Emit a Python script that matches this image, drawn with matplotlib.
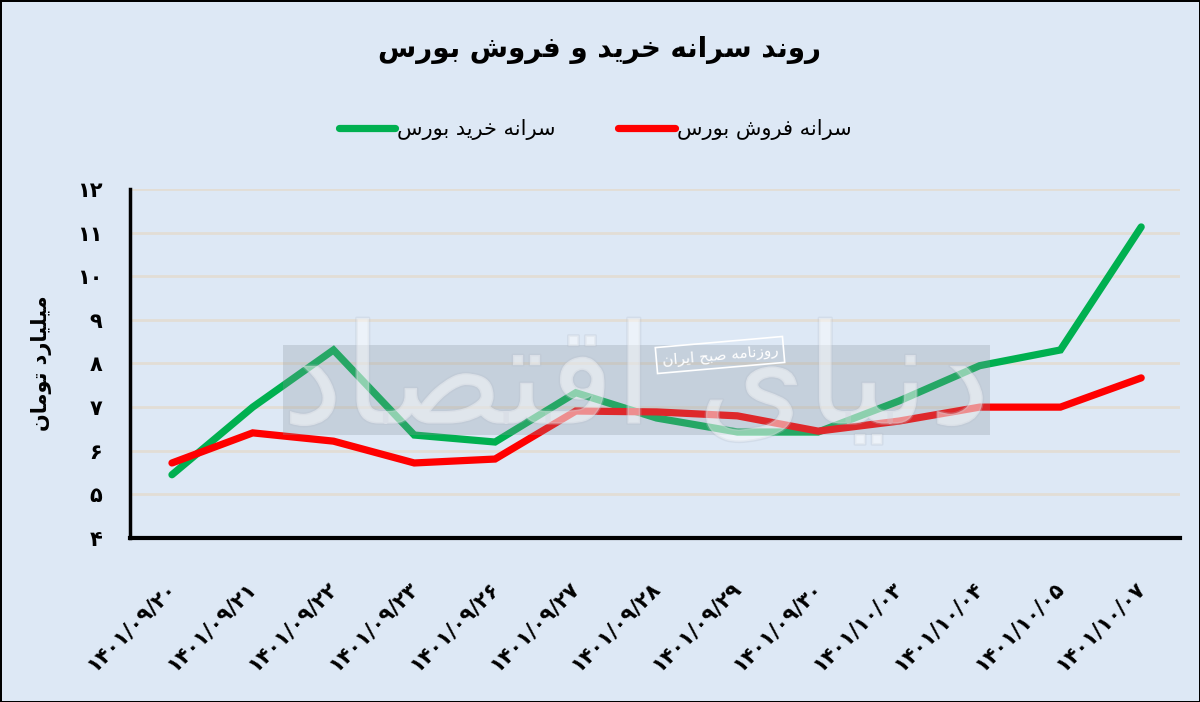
import matplotlib.pyplot as plt
import matplotlib.patheffects as pe
from matplotlib.patches import Rectangle
import numpy as np

plt.rcParams['font.family'] = ['DejaVu Sans']

# data (billion toman)
dates = ["۱۴۰۱/۰۹/۲۰", "۱۴۰۱/۰۹/۲۱", "۱۴۰۱/۰۹/۲۲", "۱۴۰۱/۰۹/۲۳", "۱۴۰۱/۰۹/۲۶",
         "۱۴۰۱/۰۹/۲۷", "۱۴۰۱/۰۹/۲۸", "۱۴۰۱/۰۹/۲۹", "۱۴۰۱/۰۹/۳۰", "۱۴۰۱/۱۰/۰۳",
         "۱۴۰۱/۱۰/۰۴", "۱۴۰۱/۱۰/۰۵", "۱۴۰۱/۱۰/۰۷"]
buy = [5.45, 7.0, 8.31, 6.36, 6.2, 7.33, 6.75, 6.43, 6.43, 7.14, 7.95, 8.31, 11.13]
sell = [5.72, 6.41, 6.22, 5.72, 5.81, 6.91, 6.89, 6.8, 6.45, 6.68, 7.0, 7.0, 7.67]
yticks = [4, 5, 6, 7, 8, 9, 10, 11, 12]
persian_digits = "۰۱۲۳۴۵۶۷۸۹"

title_txt = "روند سرانه خرید و فروش بورس"
buy_label = "سرانه خرید بورس"
sell_label = "سرانه فروش بورس"
ylabel_txt = "میلیارد تومان"

# matplotlib has no arabic shaping, so do it by hand with presentation forms
FORMS = {
    'ا': ('\uFE8D', '\uFE8E'), 'د': ('\uFEA9', '\uFEAA'), 'ر': ('\uFEAD', '\uFEAE'),
    'ز': ('\uFEAF', '\uFEB0'), 'و': ('\uFEED', '\uFEEE'),
    'ب': ('\uFE8F', '\uFE90', '\uFE91', '\uFE92'), 'ت': ('\uFE95', '\uFE96', '\uFE97', '\uFE98'),
    'ح': ('\uFEA1', '\uFEA2', '\uFEA3', '\uFEA4'), 'خ': ('\uFEA5', '\uFEA6', '\uFEA7', '\uFEA8'),
    'س': ('\uFEB1', '\uFEB2', '\uFEB3', '\uFEB4'), 'ش': ('\uFEB5', '\uFEB6', '\uFEB7', '\uFEB8'),
    'ص': ('\uFEB9', '\uFEBA', '\uFEBB', '\uFEBC'), 'ف': ('\uFED1', '\uFED2', '\uFED3', '\uFED4'),
    'ق': ('\uFED5', '\uFED6', '\uFED7', '\uFED8'), 'ل': ('\uFEDD', '\uFEDE', '\uFEDF', '\uFEE0'),
    'م': ('\uFEE1', '\uFEE2', '\uFEE3', '\uFEE4'), 'ن': ('\uFEE5', '\uFEE6', '\uFEE7', '\uFEE8'),
    'ه': ('\uFEE9', '\uFEEA', '\uFEEB', '\uFEEC'), 'ی': ('\uFBFC', '\uFBFD', '\uFBFE', '\uFBFF'),
}


def fa(text):
    out = []
    for i, c in enumerate(text):
        if c not in FORMS:
            out.append(c)
            continue
        prev = text[i - 1] if i > 0 else None
        nxt = text[i + 1] if i + 1 < len(text) else None
        p = prev in FORMS and len(FORMS[prev]) == 4
        n = len(FORMS[c]) == 4 and nxt in FORMS
        f = FORMS[c]
        if p and n:
            out.append(f[3])
        elif p:
            out.append(f[1])
        elif n:
            out.append(f[2])
        else:
            out.append(f[0])
    return ''.join(out)[::-1]


def fa_num(v):
    return ''.join(persian_digits[int(d)] for d in str(v))


bg = '#DDE8F5'
fig = plt.figure(figsize=(12, 7.02), dpi=100, facecolor=bg)
ax = fig.add_axes([0.1083, 0.2336, 0.875, 0.4972])
ax.set_facecolor(bg)

x = np.arange(len(dates))
ax.plot(x, buy, color='#00B050', lw=5.2, solid_capstyle='round', solid_joinstyle='miter',
        label=fa(buy_label), zorder=3)
ax.plot(x, sell, color='#FF0000', lw=5.2, solid_capstyle='round', solid_joinstyle='miter',
        label=fa(sell_label), zorder=4)

ax.set_xlim(-0.52, 12.48)
ax.set_ylim(4, 12)
ax.set_yticks(yticks)
ax.set_yticklabels([fa_num(v) for v in yticks], fontsize=15, fontweight='bold')
ax.set_xticks(x)
ax.set_xticklabels(dates, rotation=45, ha='right', va='center', rotation_mode='anchor',
                   fontsize=15, fontweight='bold')
ax.tick_params(axis='both', length=0)
ax.tick_params(axis='y', pad=20)
ax.tick_params(axis='x', pad=34)
ax.grid(axis='y', color='#E2DDD5', lw=2)
ax.set_axisbelow(True)
for s in ['top', 'right']:
    ax.spines[s].set_visible(False)
ax.spines['left'].set_linewidth(2.5)
ax.spines['bottom'].set_linewidth(3)

ax.set_ylabel(fa(ylabel_txt), fontsize=15, fontweight='bold')
ax.yaxis.set_label_coords(-0.074, 0.5)

fig.text(0.5, 0.929, fa(title_txt), ha='center', va='center', fontsize=20, fontweight='bold')
fig.legend(loc='center', bbox_to_anchor=(0.496, 0.815), ncol=2, frameon=False,
           fontsize=15, handlelength=2.7, columnspacing=3.0, handletextpad=0.1)

# watermark
fig.add_artist(Rectangle((283 / 1200, 1 - 435 / 702), 707 / 1200, 90 / 702,
                         transform=fig.transFigure, facecolor='#8A939E', alpha=0.28,
                         edgecolor='none', zorder=5))
fig.text(0.53, 1 - 385 / 702, fa("دنیای اقتصاد"), ha='center', va='center', fontsize=100,
         color='white', alpha=0.28, zorder=6,
         path_effects=[pe.withStroke(linewidth=2, foreground='#B8C0CC')])
fig.text(0.6, 1 - 355 / 702, fa("روزنامه صبح ایران"), ha='center', va='center', fontsize=11,
         color='white', rotation=5, zorder=7,
         bbox=dict(facecolor='none', edgecolor='white', lw=1.2, pad=4))

fig.patch.set_edgecolor('black')
fig.patch.set_linewidth(2)
fig.savefig('out.png', dpi=100, facecolor=fig.get_facecolor(), edgecolor='black')
